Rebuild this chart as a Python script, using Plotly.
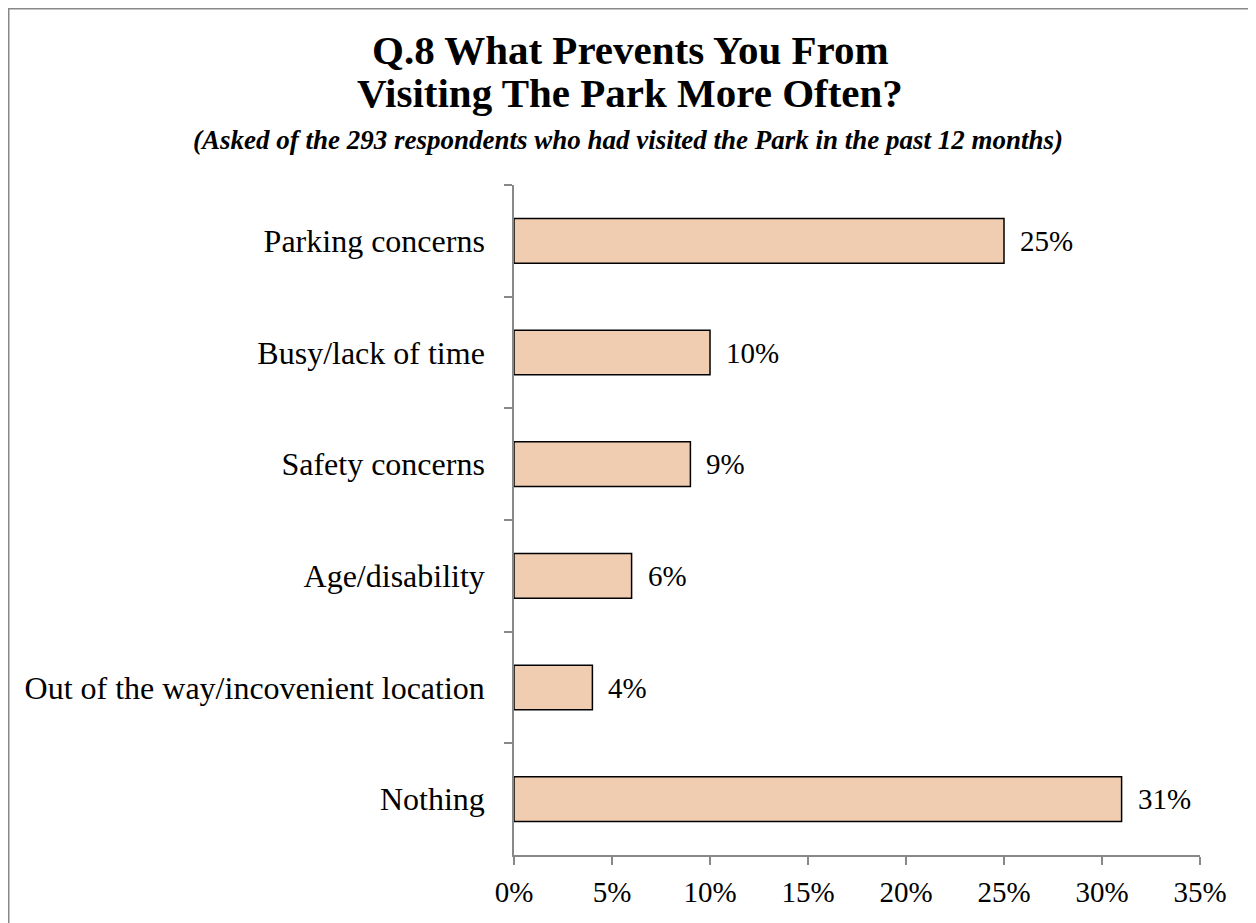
import plotly.graph_objects as go

categories = ["Parking concerns", "Busy/lack of time", "Safety concerns",
              "Age/disability", "Out of the way/incovenient location", "Nothing"]
values = [25, 10, 9, 6, 4, 31]
labels = ["25%", "10%", "9%", "6%", "4%", "31%"]
x_ticks = [0, 5, 10, 15, 20, 25, 30, 35]
x_tick_text = ["0%", "5%", "10%", "15%", "20%", "25%", "30%", "35%"]

# page offset (body margin) is 8px
OFF = 8
W, H = 1256, 923
L, T = 514 - OFF, 185 - OFF
pw, ph = 686, 670
R = W - L - pw
B = H - T - ph

def px(x):
    return (x - OFF - L) / pw

def py(y):
    return (T + ph - (y - OFF)) / ph

FONT = "Liberation Serif, Times New Roman, serif"
AXIS = "#888888"

fig = go.Figure(go.Bar(
    y=categories, x=values, orientation="h",
    marker=dict(color="#F0CCB1", line=dict(color="#000000", width=1.5)),
    width=0.4, hoverinfo="x+y",
))

annotations = [
    dict(xref="paper", yref="paper", x=px(630), y=py(50),
         xanchor="center", yanchor="middle", showarrow=False,
         text="<b>Q.8 What Prevents You From</b>",
         font=dict(family=FONT, size=41, color="#000000")),
    dict(xref="paper", yref="paper", x=px(630), y=py(93),
         xanchor="center", yanchor="middle", showarrow=False,
         text="<b>Visiting The Park More Often?</b>",
         font=dict(family=FONT, size=41, color="#000000")),
    dict(xref="paper", yref="paper", x=px(628), y=py(140),
         xanchor="center", yanchor="middle", showarrow=False,
         text="<b><i>(Asked of the 293 respondents who had visited the Park in the past 12 months)</i></b>",
         font=dict(family=FONT, size=27, color="#000000")),
]
for c, v, t in zip(categories, values, labels):
    annotations.append(dict(x=v, y=c, xref="x", yref="y", text=t,
                            showarrow=False, xanchor="left", yanchor="middle",
                            xshift=14,
                            font=dict(family=FONT, size=29, color="#000000")))

fig.update_layout(
    width=W, height=H,
    margin=dict(l=L, r=R, t=T, b=B, pad=0),
    paper_bgcolor="white", plot_bgcolor="white",
    showlegend=False,
    font=dict(family=FONT, size=29, color="#000000"),
    xaxis=dict(range=[0, 35], tickvals=x_ticks, ticktext=x_tick_text,
               showgrid=False, zeroline=False, showline=True,
               linecolor=AXIS, linewidth=1.5, ticks="outside",
               tickcolor=AXIS, ticklen=8, tickwidth=1.5,
               ticklabelstandoff=2,
               tickfont=dict(family=FONT, size=29, color="#000000")),
    yaxis=dict(autorange="reversed", showgrid=False, zeroline=False,
               showline=True, linecolor=AXIS, linewidth=1.5,
               ticks="outside", tickson="boundaries", tickcolor=AXIS,
               ticklen=8, tickwidth=1.5, ticklabelstandoff=21,
               tickfont=dict(family=FONT, size=32, color="#000000")),
    shapes=[dict(type="rect", xref="paper", yref="paper",
                 x0=px(8.75), x1=px(1300), y0=py(960), y1=py(8.75),
                 line=dict(color=AXIS, width=1.5), fillcolor="rgba(0,0,0,0)",
                 layer="below")],
    annotations=annotations,
)

fig.write_html("out.html")
